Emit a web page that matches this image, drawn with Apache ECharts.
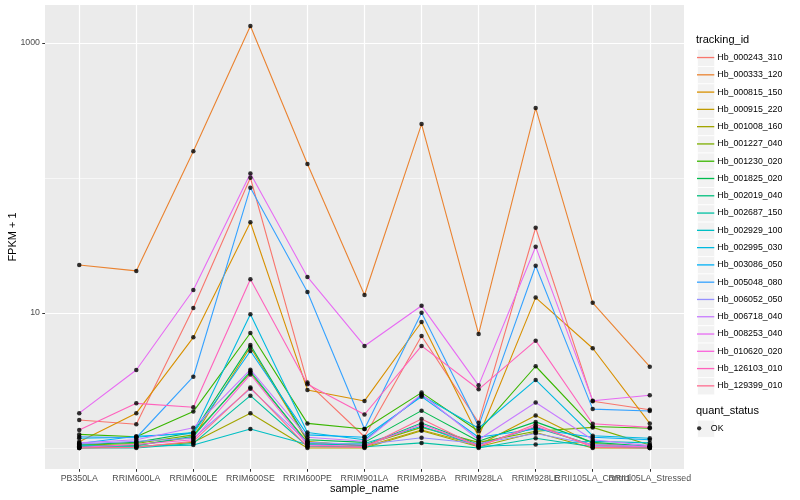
<!DOCTYPE html>
<html><head><meta charset="utf-8">
<script src="https://cdn.jsdelivr.net/npm/echarts@6/dist/echarts.min.js"></script>
<style>html,body{margin:0;padding:0;background:#fff}#c{width:800px;height:500px}</style>
</head><body><div id="c"></div>
<script>
// ---- data (FPKM + 1) ----
const categories = ['PB350LA','RRIM600LA','RRIM600LE','RRIM600SE','RRIM600PE','RRIM901LA','RRIM928BA','RRIM928LA','RRIM928LE','RRII105LA_Control','RRII105LA_Stressed'];
const trackingIds = ['Hb_000243_310','Hb_000333_120','Hb_000815_150','Hb_000915_220','Hb_001008_160','Hb_001227_040','Hb_001230_020','Hb_001825_020','Hb_002019_040','Hb_002687_150','Hb_002929_100','Hb_002995_030','Hb_003086_050','Hb_005048_080','Hb_006052_050','Hb_006718_040','Hb_008253_040','Hb_010620_020','Hb_126103_010','Hb_129399_010'];
const lineColors = ['#F8766D','#EA8331','#D89000','#C09B00','#A3A500','#7CAE00','#39B600','#00BB4E','#00BF7D','#00C1A3','#00BFC4','#00BAE0','#00B0F6','#35A2FF','#9590FF','#C77CFF','#E76BF3','#FA62DB','#FF62BC','#FF6C90'];

const Hb_000243_310 = [1.61, 1.50, 10.9, 100.5, 3.05, 1.21, 6.76, 1.54, 42.8, 2.22, 1.92];
const Hb_000333_120 = [22.7, 20.5, 158, 1336, 127, 13.6, 251, 7.0, 330, 11.9, 4.0];
const Hb_000815_150 = [1.11, 1.81, 6.6, 47, 2.69, 2.23, 8.58, 1.21, 13.0, 5.48, 1.52];
const Hb_000915_220 = [1.03, 1.05, 1.20, 5.6, 1.12, 1.02, 1.36, 1.05, 1.74, 1.08, 1.02];
const Hb_001008_160 = [1.00, 1.02, 1.10, 1.81, 1.00, 1.00, 1.34, 1.02, 1.30, 1.00, 1.00];
const Hb_001227_040 = [1.05, 1.08, 1.25, 3.6, 1.10, 1.05, 1.42, 1.10, 1.33, 1.42, 1.05];
const Hb_001230_020 = [1.26, 1.21, 1.86, 7.11, 1.52, 1.38, 2.57, 1.33, 4.03, 1.44, 1.40];
const Hb_001825_020 = [1.06, 1.10, 1.30, 5.8, 1.15, 1.10, 1.89, 1.12, 1.56, 1.10, 1.03];
const Hb_002019_040 = [1.02, 1.04, 1.22, 3.7, 1.08, 1.04, 1.53, 1.06, 1.42, 1.05, 1.01];
const Hb_002687_150 = [1.00, 1.00, 1.08, 2.44, 1.03, 1.02, 1.09, 1.00, 1.18, 1.02, 1.00];
const Hb_002929_100 = [1.04, 1.03, 1.05, 1.38, 1.06, 1.08, 1.45, 1.03, 1.06, 1.12, 1.09];
const Hb_002995_030 = [1.18, 1.20, 1.30, 9.8, 1.30, 1.15, 2.45, 1.40, 3.19, 1.23, 1.18];
const Hb_003086_050 = [1.08, 1.22, 1.28, 5.23, 1.25, 1.20, 2.40, 1.20, 1.38, 1.20, 1.15];
const Hb_005048_080 = [1.21, 1.19, 3.37, 84.8, 14.3, 1.38, 10.05, 1.45, 22.4, 1.94, 1.88];
const Hb_006052_050 = [1.07, 1.12, 1.18, 2.75, 1.10, 1.06, 1.19, 1.08, 1.28, 1.06, 1.03];
const Hb_006718_040 = [1.09, 1.15, 1.41, 3.8, 1.20, 1.12, 2.50, 1.15, 2.17, 1.15, 1.04];
const Hb_008253_040 = [1.81, 3.78, 14.8, 108, 18.5, 5.7, 11.3, 2.91, 31.0, 2.24, 2.46];
const Hb_010620_020 = [1.01, 1.06, 1.15, 3.5, 1.05, 1.03, 1.50, 1.04, 1.45, 1.04, 1.02];
const Hb_126103_010 = [1.36, 2.14, 2.00, 17.8, 2.96, 1.77, 5.7, 2.72, 6.24, 1.51, 1.42];
const Hb_129399_010 = [1.00, 1.01, 1.12, 2.8, 1.02, 1.01, 1.64, 1.02, 1.50, 1.01, 1.00];

const seriesValues = [Hb_000243_310, Hb_000333_120, Hb_000815_150, Hb_000915_220, Hb_001008_160, Hb_001227_040, Hb_001230_020, Hb_001825_020, Hb_002019_040, Hb_002687_150, Hb_002929_100, Hb_002995_030, Hb_003086_050, Hb_005048_080, Hb_006052_050, Hb_006718_040, Hb_008253_040, Hb_010620_020, Hb_126103_010, Hb_129399_010];

const yTickLabels = [10, 1000];     // labelled major breaks
const yMinorBreaks = [1, 100];      // minor grid lines
const quantStatus = ['OK'];

// ---- chart ----
const FONT = "'Liberation Sans', Arial, Helvetica, sans-serif";
const L = Math.log10;
const chart = echarts.init(document.getElementById('c'), null, {renderer: 'canvas'});

const catIdx = categories.map((c, i) => i);
const evenIdx = catIdx.filter(i => i % 2 === 0);
const oddIdx = catIdx.filter(i => i % 2 === 1);

const lineSeries = trackingIds.map((id, i) => ({
  name: id, type: 'line', xAxisIndex: 0, yAxisIndex: 0,
  data: seriesValues[i].map((v, j) => [j, L(v)]),
  showSymbol: false, symbol: 'none',
  color: lineColors[i],
  lineStyle: {color: lineColors[i], width: 1.1},
  silent: true, animation: false, z: 2
}));
const pts = [];
seriesValues.forEach(arr => arr.forEach((v, j) => pts.push([j, L(v)])));
const pointSeries = {
  name: quantStatus[0], type: 'scatter', xAxisIndex: 0, yAxisIndex: 0, data: pts, symbol: 'circle', symbolSize: 4.5,
  itemStyle: {color: '#000'}, color: '#000', silent: true, animation: false, z: 3
};

const keyTop0 = 48.9, keyH = 17.28;
const graphics = [];
trackingIds.forEach((id, i) => graphics.push({type: 'rect', left: 697, top: keyTop0 + i * keyH,
  shape: {width: 17.28, height: 17.28}, style: {fill: '#F2F2F2', stroke: '#fff', lineWidth: 0.8}, z: 0}));
graphics.push({type: 'rect', left: 697, top: 419.7, shape: {width: 17.28, height: 17.28},
  style: {fill: '#F2F2F2', stroke: '#fff', lineWidth: 0.8}, z: 0});
graphics.push({type: 'text', left: 696, top: 34.5, style: {text: 'tracking_id', fontSize: 11, fill: '#000', font: '11px ' + FONT}, z: 5});
graphics.push({type: 'text', left: 696, top: 405.5, style: {text: 'quant_status', fontSize: 11, fill: '#000', font: '11px ' + FONT}, z: 5});

const xLabelStyle = {fontSize: 8.8, color: '#4D4D4D', margin: 5.5, hideOverlap: false, showMinLabel: true, showMaxLabel: true, fontFamily: FONT,
  formatter: v => categories[Math.round(v)] || ''};

const option = {
  backgroundColor: '#fff',
  animation: false,
  textStyle: {fontFamily: FONT},
  grid: {left: 45, right: 116, top: 5, bottom: 31, show: true, backgroundColor: '#EBEBEB', borderWidth: 0,
    containLabel: false, outerBoundsMode: 'none'},
  xAxis: [{
    type: 'value', min: -0.6, max: 10.6, position: 'bottom',
    name: 'sample_name', nameLocation: 'middle', nameGap: 14.5, nameMoveOverlap: false,
    nameTextStyle: {fontSize: 11, color: '#000', fontFamily: FONT},
    axisLine: {show: false, onZero: false},
    axisTick: {show: true, length: 2.75, lineStyle: {color: '#333', width: 1}, customValues: catIdx},
    axisLabel: Object.assign({customValues: evenIdx}, xLabelStyle),
    splitLine: {show: true, lineStyle: {color: '#fff', width: 1.2}}
  }, {
    type: 'value', min: -0.6, max: 10.6, position: 'bottom', offset: 0,
    axisLine: {show: false, onZero: false},
    axisTick: {show: false, customValues: oddIdx},
    axisLabel: Object.assign({customValues: oddIdx}, xLabelStyle),
    splitLine: {show: false}
  }],
  yAxis: [{
    type: 'value', min: -0.156, max: 3.282,
    name: 'FPKM + 1', nameLocation: 'middle', nameGap: 27, nameRotate: 90, nameMoveOverlap: false,
    nameTextStyle: {fontSize: 11, color: '#000', fontFamily: FONT},
    axisLine: {show: false, onZero: false},
    axisTick: {show: true, length: 2.75, lineStyle: {color: '#333', width: 1}, customValues: yTickLabels.map(L)},
    axisLabel: {customValues: yTickLabels.map(L), formatter: v => String(Math.round(Math.pow(10, v))),
      fontSize: 8.8, color: '#4D4D4D', margin: 5, showMinLabel: true, showMaxLabel: true, fontFamily: FONT},
    splitLine: {show: true, lineStyle: {color: '#fff', width: 1.2}}
  }, {
    type: 'value', min: -0.156, max: 3.282, position: 'left', offset: 0,
    axisLine: {show: false, onZero: false},
    axisTick: {show: false, customValues: yMinorBreaks.map(L)},
    axisLabel: {show: false, customValues: yMinorBreaks.map(L)},
    splitLine: {show: true, lineStyle: {color: '#fff', width: 0.6}}
  }],
  legend: [{
    orient: 'vertical', left: 697, top: keyTop0, padding: 0, itemWidth: 17.28, itemHeight: 1.3, itemGap: 0,
    icon: 'rect', selectedMode: false,
    textStyle: {fontSize: 8.8, color: '#000', lineHeight: 17.28, fontFamily: FONT, padding: [0, 0, 0, -2]},
    data: trackingIds.map((n, i) => ({name: n, itemStyle: {color: lineColors[i]}})), z: 5
  }, {
    orient: 'vertical', left: 697, top: 419.7, padding: 0, itemWidth: 17.28, itemHeight: 4.3, itemGap: 0,
    icon: 'circle', selectedMode: false,
    textStyle: {fontSize: 8.8, color: '#000', lineHeight: 17.28, fontFamily: FONT, padding: [0, 0, 0, -2]},
    data: quantStatus.map(n => ({name: n, itemStyle: {color: '#000'}})), z: 5
  }],
  graphic: graphics,
  series: lineSeries.concat([pointSeries])
};
chart.setOption(option);
</script></body></html>
